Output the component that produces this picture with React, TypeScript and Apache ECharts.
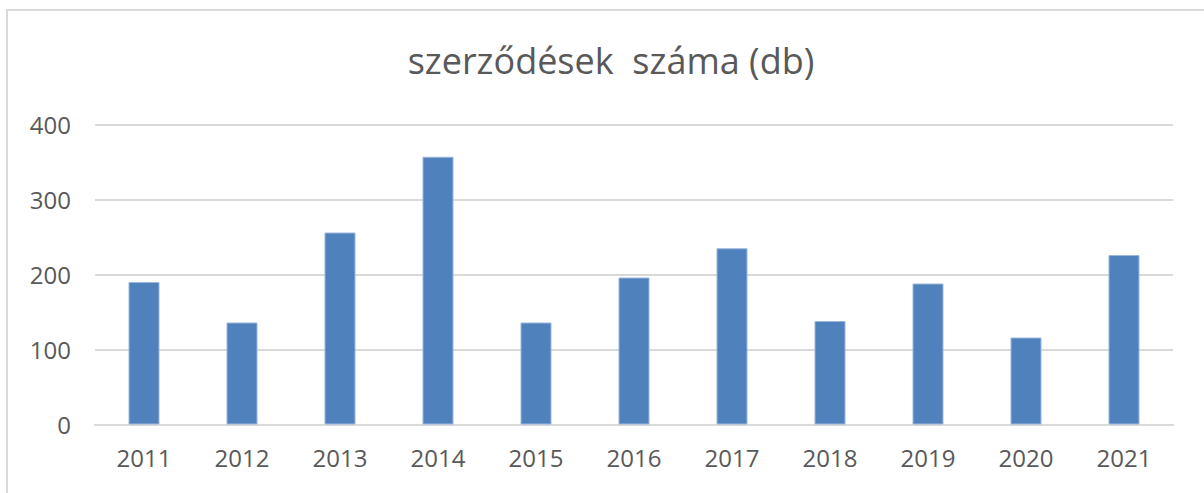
import React, { useEffect, useRef } from "react";
import * as echarts from "echarts";

const years = ["2011", "2012", "2013", "2014", "2015", "2016", "2017", "2018", "2019", "2020", "2021"];
const contracts = [190, 136, 256, 357, 136, 196, 235, 138, 188, 116, 226];
const yTicks = { min: 0, max: 400, interval: 100 };
const titleText = "szerződések  száma (db)";

export default function App() {
  const ref = useRef<HTMLDivElement>(null);
  useEffect(() => {
    if (!ref.current) return;
    const chart = echarts.init(ref.current, undefined, { renderer: "svg" });
    const font = "'Open Sans', sans-serif";
    chart.setOption({
      animation: false,
      backgroundColor: "#ffffff",
      textStyle: { fontFamily: font },
      title: {
        text: titleText,
        left: 606,
        textAlign: "center",
        top: 37,
        textStyle: { fontFamily: font, fontSize: 36, fontWeight: "normal", color: "#595959" },
      },
      graphic: [
        {
          type: "rect",
          shape: { x: 7, y: 10, width: 1210, height: 500 },
          style: { fill: "none", stroke: "#d9d9d9", lineWidth: 2 },
          silent: true,
        },
      ],
      grid: { left: 95, right: 31, top: 124.5, bottom: 68.5, containLabel: false },
      xAxis: {
        type: "category",
        data: years,
        axisTick: { show: false },
        axisLine: { show: true, lineStyle: { color: "#d9d9d9", width: 2 } },
        axisLabel: { color: "#595959", fontSize: 24, fontFamily: font, margin: 21 },
      },
      yAxis: {
        type: "value",
        min: yTicks.min,
        max: yTicks.max,
        interval: yTicks.interval,
        axisLine: { show: false },
        axisTick: { show: false },
        splitLine: { lineStyle: { color: "#d9d9d9", width: 2 } },
        axisLabel: { color: "#595959", fontSize: 24, fontFamily: font, margin: 24 },
      },
      series: [
        {
          type: "bar",
          data: contracts,
          barWidth: 31,
          itemStyle: { color: "#4f81bd", borderColor: "#9db7dc", borderWidth: 1 },
        },
      ],
    });
    return () => chart.dispose();
  }, []);
  return (
    <div
      ref={ref}
      style={{ position: "absolute", left: 0, top: 0, width: 1204, height: 493 }}
    />
  );
}
